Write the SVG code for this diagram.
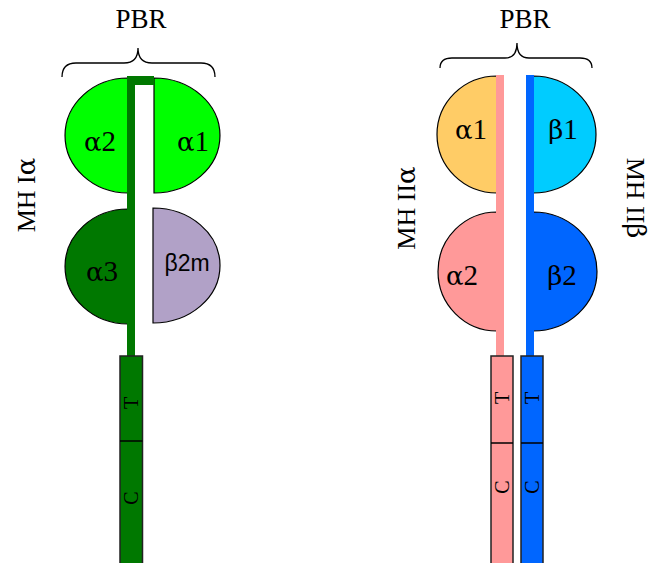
<svg xmlns="http://www.w3.org/2000/svg" width="659" height="563" viewBox="0 0 659 563">
  <style>
    .dom { stroke: #000; stroke-width: 1.2; }
    .lbl { font-family: "Liberation Serif", "DejaVu Serif", serif; font-size: 29px; text-anchor: middle; fill: #000; }
    .gk { font-family: "DejaVu Serif", "Liberation Serif", serif; font-size: 26px; }
    .sans { font-family: "Liberation Sans", Arial, sans-serif; font-size: 23px; text-anchor: middle; fill: #000; }
    .title { font-family: "Liberation Serif", "Times New Roman", serif; font-size: 27px; text-anchor: middle; fill: #000; }
    .side { font-family: "Liberation Serif", "DejaVu Serif", serif; font-size: 26px; text-anchor: middle; fill: #000; }
    .seg { font-family: "Liberation Serif", "Times New Roman", serif; font-size: 20px; text-anchor: middle; fill: #000; }
    .brace { fill: none; stroke: #000; stroke-width: 1.3; }
    .box { stroke: #222; stroke-width: 1.5; }
    .div { stroke: #000; stroke-width: 1.5; }
  </style>

  <!-- ===== MHC class I ===== -->
  <g id="mhc1-title">
    <text class="title" x="141" y="28">PBR</text>
    <path class="brace" d="M62,77 Q62,63 76,63 L124,63 Q138,63 138,48 Q138,63 152,63 L201,63 Q215,63 215,77"/>
  </g>
  <g id="mhc1-label">
    <text class="side" transform="translate(35,195) rotate(-90)">MH I<tspan class="gk" font-size="24">α</tspan></text>
  </g>
  <g id="mhc1-a2">
    <path class="dom" fill="#00ff00" d="M128,78 A63,57.5 0 0 0 128,193 Z"/>
    <text class="lbl" x="100" y="151"><tspan class="gk">α</tspan>2</text>
  </g>
  <g id="mhc1-a1">
    <path class="dom" fill="#00ff00" d="M154,78 A66,57.5 0 0 1 154,193 Z"/>
    <text class="lbl" x="193" y="151"><tspan class="gk">α</tspan>1</text>
  </g>
  <g id="mhc1-a3">
    <path class="dom" fill="#007800" d="M128,209 A63,57.5 0 0 0 128,324 Z"/>
    <text class="lbl" x="102" y="281"><tspan class="gk">α</tspan>3</text>
  </g>
  <g id="mhc1-b2m">
    <path class="dom" fill="#b1a1c7" d="M153,208 A67,57.5 0 0 1 153,323 Z"/>
    <text class="sans" x="187" y="271">β2m</text>
  </g>
  <g id="mhc1-chain">
    <rect x="127" y="76" width="8" height="282" fill="#007800"/>
    <rect x="127" y="76" width="27" height="9" fill="#007800"/>
  </g>
  <g id="mhc1-tc">
    <rect class="box" x="120" y="356" width="22.5" height="220" fill="#007800"/>
    <line class="div" x1="120" y1="441" x2="142.5" y2="441"/>
    <text class="seg" transform="translate(131,403) rotate(-90)" dy="7">T</text>
    <text class="seg" transform="translate(131,498) rotate(-90)" dy="7">C</text>
  </g>

  <!-- ===== MHC class II ===== -->
  <g id="mhc2-title">
    <text class="title" x="525" y="28">PBR</text>
    <path class="brace" d="M440,68 Q440,58 452,58 L505,58 Q517,58 517,43 Q517,58 529,58 L580,58 Q592,58 592,68"/>
  </g>
  <g id="mhc2-label-a">
    <text class="side" transform="translate(415,208) rotate(-90)">MH II<tspan class="gk" font-size="24">α</tspan></text>
  </g>
  <g id="mhc2-label-b">
    <text class="side" transform="translate(627,198) rotate(90)">MH II<tspan class="gk" font-size="24">β</tspan></text>
  </g>
  <g id="mhc2-a1">
    <path class="dom" fill="#ffcc66" d="M497,76 A60,58.5 0 0 0 497,193 Z"/>
    <text class="lbl" x="471" y="139"><tspan class="gk">α</tspan>1</text>
  </g>
  <g id="mhc2-b1">
    <path class="dom" fill="#00ccff" d="M533,76 A63,58.5 0 0 1 533,193 Z"/>
    <text class="lbl" x="563" y="139"><tspan class="gk">β</tspan>1</text>
  </g>
  <g id="mhc2-a2">
    <path class="dom" fill="#ff9999" d="M497,212 A59,59.5 0 0 0 497,331 Z"/>
    <text class="lbl" x="462" y="285"><tspan class="gk">α</tspan>2</text>
  </g>
  <g id="mhc2-b2">
    <path class="dom" fill="#0066ff" d="M533,212 A64,59.5 0 0 1 533,331 Z"/>
    <text class="lbl" x="562" y="285"><tspan class="gk">β</tspan>2</text>
  </g>
  <g id="mhc2-chains">
    <rect x="496" y="75" width="8" height="283" fill="#ff9999"/>
    <rect x="526" y="75" width="8" height="283" fill="#0066ff"/>
  </g>
  <g id="mhc2-tc-a">
    <rect class="box" x="491" y="356" width="22" height="220" fill="#ff9999"/>
    <line class="div" x1="491" y1="443" x2="513" y2="443"/>
    <text class="seg" transform="translate(502,398) rotate(-90)" dy="7">T</text>
    <text class="seg" transform="translate(502,487) rotate(-90)" dy="7">C</text>
  </g>
  <g id="mhc2-tc-b">
    <rect class="box" x="521" y="356" width="22" height="220" fill="#0066ff"/>
    <line class="div" x1="521" y1="443" x2="543" y2="443"/>
    <text class="seg" transform="translate(532,398) rotate(-90)" dy="7">T</text>
    <text class="seg" transform="translate(532,487) rotate(-90)" dy="7">C</text>
  </g>
</svg>
